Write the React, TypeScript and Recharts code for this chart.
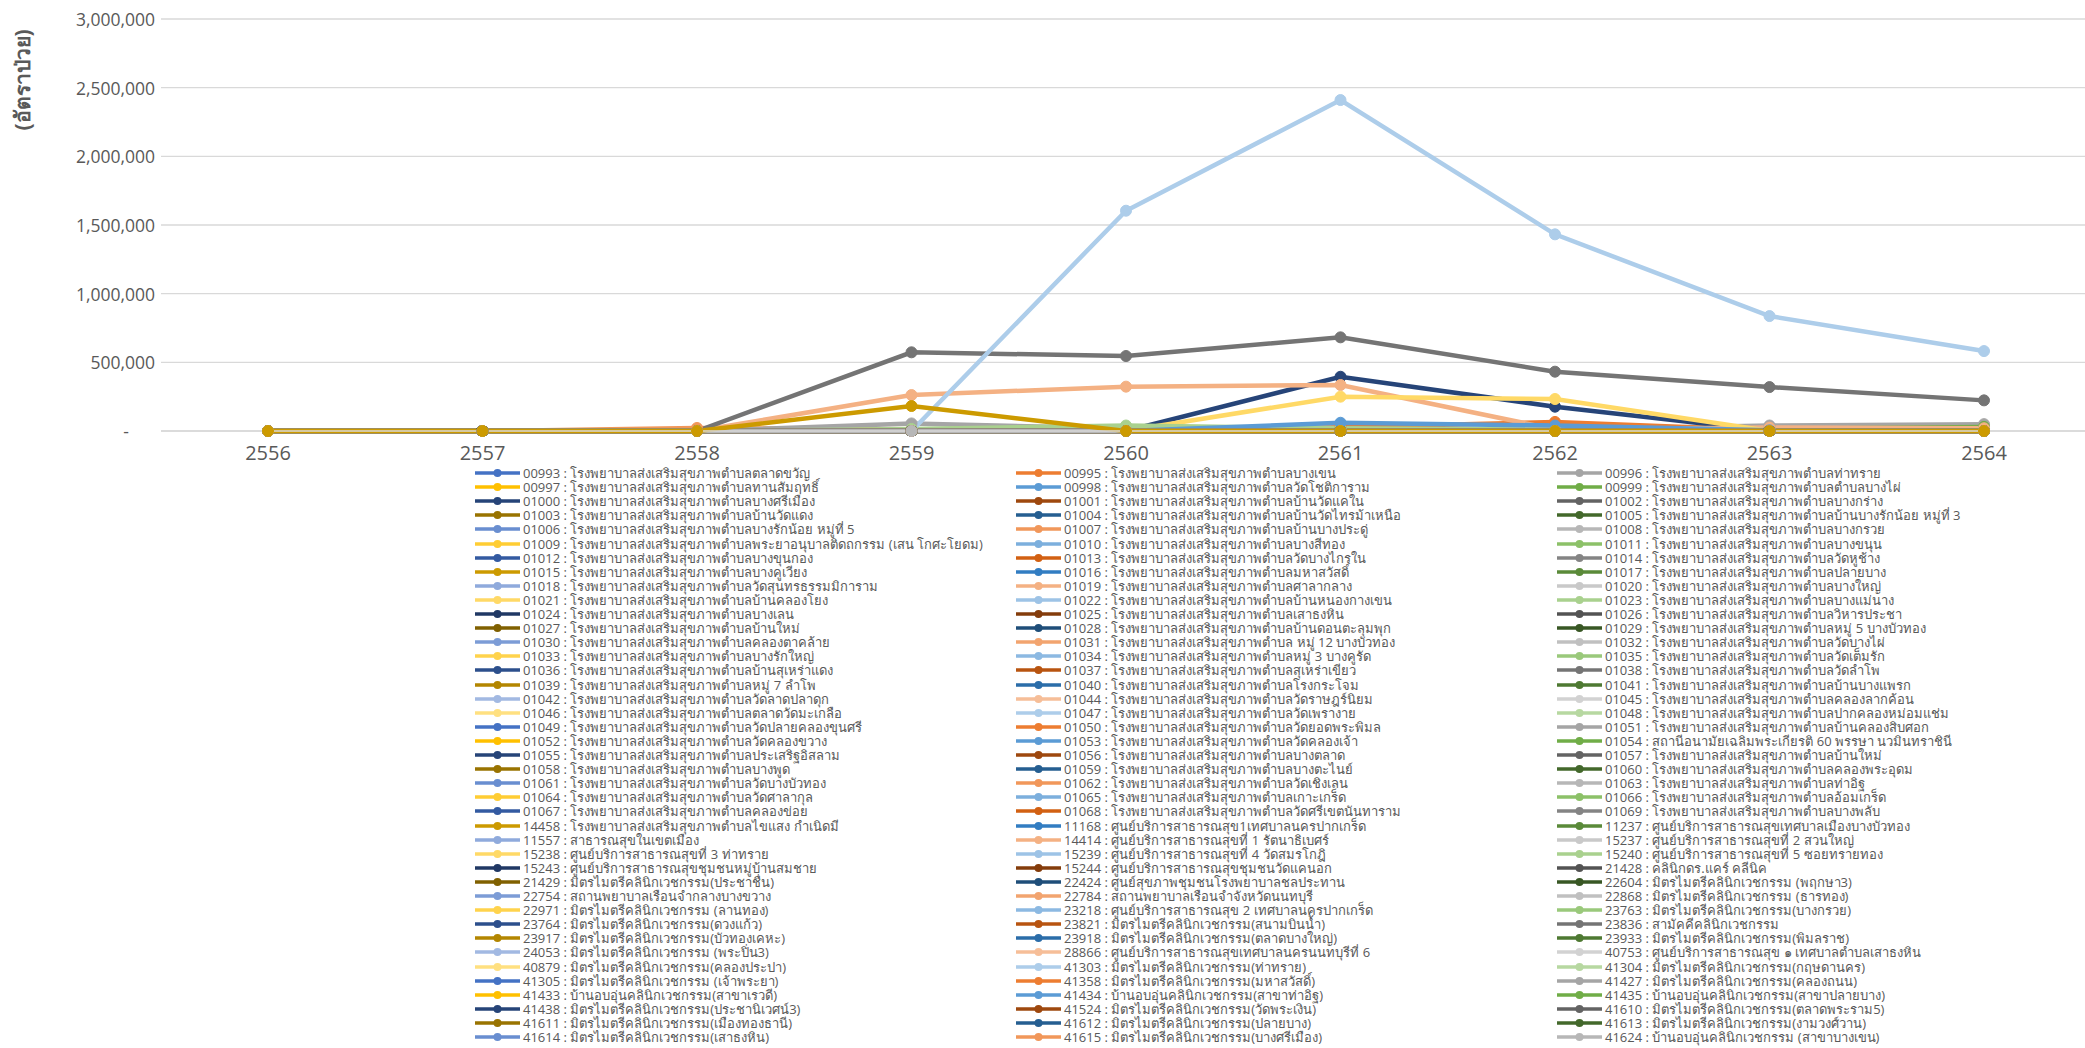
import React from "react";
import { LineChart, Line, XAxis, YAxis, CartesianGrid } from "recharts";

const years = ["2556", "2557", "2558", "2559", "2560", "2561", "2562", "2563", "2564"];
const yTicks = [0, 500000, 1000000, 1500000, 2000000, 2500000, 3000000];

// legend order (Excel fills rows left to right)
const codes = [
  "00993", "00995", "00996", "00997", "00998", "00999", "01000", "01001", "01002",
  "01003", "01004", "01005", "01006", "01007", "01008", "01009", "01010", "01011",
  "01012", "01013", "01014", "01015", "01016", "01017", "01018", "01019", "01020",
  "01021", "01022", "01023", "01024", "01025", "01026", "01027", "01028", "01029",
  "01030", "01031", "01032", "01033", "01034", "01035", "01036", "01037", "01038",
  "01039", "01040", "01041", "01042", "01044", "01045", "01046", "01047", "01048",
  "01049", "01050", "01051", "01052", "01053", "01054", "01055", "01056", "01057",
  "01058", "01059", "01060", "01061", "01062", "01063", "01064", "01065", "01066",
  "01067", "01068", "01069", "14458", "11168", "11237", "11557", "14414", "15237",
  "15238", "15239", "15240", "15243", "15244", "21428", "21429", "22424", "22604",
  "22754", "22784", "22868", "22971", "23218", "23763", "23764", "23821", "23836",
  "23917", "23918", "23933", "24053", "28866", "40753", "40879", "41303", "41304",
  "41305", "41358", "41427", "41433", "41434", "41435", "41438", "41524", "41610",
  "41611", "41612", "41613", "41614", "41615", "41624",
];

const P = "โรงพยาบาลส่งเสริมสุขภาพตำบล";
const names = [
  P + "ตลาดขวัญ", P + "บางเขน", P + "ท่าทราย",
  P + "ทานสัมฤทธิ์", P + "วัดโชติการาม", P + "ตำบลบางไผ่",
  P + "บางศรีเมือง", P + "บ้านวัดแคใน", P + "บางกร่าง",
  P + "บ้านวัดแดง", P + "บ้านวัดไทรม้าเหนือ", P + "บ้านบางรักน้อย หมู่ที่ 3",
  P + "บางรักน้อย หมู่ที่ 5", P + "บ้านบางประดู่", P + "บางกรวย",
  P + "พระยาอนุบาลติดถกรรม (เสน โกศะโยดม)", P + "บางสีทอง", P + "บางขนุน",
  P + "บางขุนกอง", P + "วัดบางไกรใน", P + "วัดหูช้าง",
  P + "บางคูเวียง", P + "มหาสวัสดิ์", P + "ปลายบาง",
  P + "วัดสุนทรธรรมมิการาม", P + "ศาลากลาง", P + "บางใหญ่",
  P + "บ้านคลองโยง", P + "บ้านหนองกางเขน", P + "บางแม่นาง",
  P + "บางเลน", P + "เสาธงหิน", P + "วิหารประชา",
  P + "บ้านใหม่", P + "บ้านดอนตะลุมพุก", P + "หมู่ 5 บางบัวทอง",
  P + "คลองตาคล้าย", P + " หมู่ 12 บางบัวทอง", P + "วัดบางไผ่",
  P + "บางรักใหญ่", P + "หมู่ 3 บางคูรัด", P + "วัดเต็มรัก",
  P + "บ้านสุเหร่าแดง", P + "สุเหร่าเขียว", P + "วัดลำโพ",
  P + "หมู่ 7 ลำโพ", P + "โรงกระโจม", P + "บ้านบางแพรก",
  P + "วัดลาดปลาดุก", P + "วัดราษฎร์นิยม", P + "คลองลากค้อน",
  P + "ตลาดวัดมะเกลือ", P + "วัดเพรางาย", P + "ปากคลองหม่อมแช่ม",
  P + "วัดปลายคลองขุนศรี", P + "วัดยอดพระพิมล", P + "บ้านคลองสิบศอก",
  P + "วัดคลองขวาง", P + "วัดคลองเจ้า", "สถานีอนามัยเฉลิมพระเกียรติ 60 พรรษา นวมินทราชินี",
  P + "ประเสริฐอิสลาม", P + "บางตลาด", P + "บ้านใหม่",
  P + "บางพูด", P + "บางตะไนย์", P + "คลองพระอุดม",
  P + "วัดบางบัวทอง", P + "วัดเชิงเลน", P + "ท่าอิฐ",
  P + "วัดศาลากุล", P + "เกาะเกร็ด", P + "อ้อมเกร็ด",
  P + "คลองข่อย", P + "วัดศรีเขตนันทาราม", P + "บางพลับ",
  P + "ไขแสง กำเนิดมี", "ศูนย์บริการสาธารณสุข1เทศบาลนครปากเกร็ด", "ศูนย์บริการสาธารณสุขเทศบาลเมืองบางบัวทอง",
  "สาธารณสุขในเขตเมือง", "ศูนย์บริการสาธารณสุขที่ 1 รัตนาธิเบศร์", "ศูนย์บริการสาธารณสุขที่ 2 สวนใหญ่",
  "ศูนย์บริการสาธารณสุขที่ 3 ท่าทราย", "ศูนย์บริการสาธารณสุขที่ 4 วัดสมรโกฎิ", "ศูนย์บริการสาธารณสุขที่ 5 ซอยทรายทอง",
  "ศูนย์บริการสาธารณสุขชุมชนหมู่บ้านสมชาย", "ศูนย์บริการสาธารณสุขชุมชนวัดแคนอก", "คลินิกดร.แคร์ คลีนิค",
  "มิตรไมตรีคลินิกเวชกรรม(ประชาชื่น)", "ศูนย์สุขภาพชุมชนโรงพยาบาลชลประทาน", "มิตรไมตรีคลินิกเวชกรรม (พฤกษา3)",
  "สถานพยาบาลเรือนจำกลางบางขวาง", "สถานพยาบาลเรือนจำจังหวัดนนทบุรี", "มิตรไมตรีคลินิกเวชกรรม (ธารทอง)",
  "มิตรไมตรีคลินิกเวชกรรม (ลานทอง)", "ศูนย์บริการสาธารณสุข 2 เทศบาลนครปากเกร็ด", "มิตรไมตรีคลินิกเวชกรรม(บางกรวย)",
  "มิตรไมตรีคลินิกเวชกรรม(ดวงแก้ว)", "มิตรไมตรีคลินิกเวชกรรม(สนามบินน้ำ)", "สามัคคีคลินิกเวชกรรม",
  "มิตรไมตรีคลินิกเวชกรรม(บัวทองเคหะ)", "มิตรไมตรีคลินิกเวชกรรม(ตลาดบางใหญ่)", "มิตรไมตรีคลินิกเวชกรรม(พิมลราช)",
  "มิตรไมตรีคลินิกเวชกรรม (พระปิ่น3)", "ศูนย์บริการสาธารณสุขเทศบาลนครนนทบุรีที่ 6", "ศูนย์บริการสาธารณสุข ๑ เทศบาลตำบลเสาธงหิน",
  "มิตรไมตรีคลินิกเวชกรรม(คลองประปา)", "มิตรไมตรีคลินิกเวชกรรม(ท่าทราย)", "มิตรไมตรีคลินิกเวชกรรม(กฤษดานคร)",
  "มิตรไมตรีคลินิกเวชกรรม (เจ้าพระยา)", "มิตรไมตรีคลินิกเวชกรรม(มหาสวัสดิ์)", "มิตรไมตรีคลินิกเวชกรรม(คลองถนน)",
  "บ้านอบอุ่นคลินิกเวชกรรม(สาขาเรวดี)", "บ้านอบอุ่นคลินิกเวชกรรม(สาขาท่าอิฐ)", "บ้านอบอุ่นคลินิกเวชกรรม(สาขาปลายบาง)",
  "มิตรไมตรีคลินิกเวชกรรม(ประชานิเวศน์3)", "มิตรไมตรีคลินิกเวชกรรม(วัดพระเงิน)", "มิตรไมตรีคลินิกเวชกรรม(ตลาดพระราม5)",
  "มิตรไมตรีคลินิกเวชกรรม(เมืองทองธานี)", "มิตรไมตรีคลินิกเวชกรรม(ปลายบาง)", "มิตรไมตรีคลินิกเวชกรรม(งามวงศ์วาน)",
  "มิตรไมตรีคลินิกเวชกรรม(เสาธงหิน)", "มิตรไมตรีคลินิกเวชกรรม(บางศรีเมือง)", "บ้านอบอุ่นคลินิกเวชกรรม (สาขาบางเขน)",
];

// values per year, 2556..2564
const s41303 = [0, 0, 0, 0, 1604000, 2410000, 1432000, 837000, 582000];
const s23836 = [0, 0, 0, 573000, 546000, 682000, 432000, 320000, 223000];
const s14414 = [0, 0, 0, 262000, 323000, 335000, 12000, 25000, 20000];
const s01055 = [0, 0, 0, 0, 0, 395000, 177000, 0, 0];
const s15238 = [0, 0, 0, 0, 0, 250000, 233000, 0, 0];
const s14458 = [0, 0, 0, 182000, 0, 0, 0, 0, 0];
const s01050 = [0, 0, 0, 0, 0, 28000, 66000, 6000, 0];
const s41434 = [0, 0, 0, 0, 0, 60000, 40000, 5000, 0];
const s01051 = [0, 0, 0, 55000, 18000, 10000, 8000, 0, 0];
const s15240 = [0, 0, 0, 15000, 40000, 20000, 10000, 0, 0];
const s00996 = [0, 0, 0, 0, 0, 0, 10000, 40000, 50000];
const s00999 = [0, 0, 0, 0, 0, 0, 0, 15000, 30000];
const s01007 = [0, 0, 22000, 12000, 6000, 0, 0, 0, 0];
const flat = [0, 0, 0, 0, 0, 0, 0, 0, 0];

const valuesByCode: Record<string, number[]> = {
  "41303": s41303, "23836": s23836, "14414": s14414, "01055": s01055,
  "15238": s15238, "14458": s14458, "01050": s01050, "41434": s41434,
  "01051": s01051, "15240": s15240, "00996": s00996, "00999": s00999,
  "01007": s01007,
};

// Office palette with Excel's shade variations
const accents = ["#4472C4", "#ED7D31", "#A5A5A5", "#FFC000", "#5B9BD5", "#70AD47"];
const variations = [[1, 0], [0.6, 0], [0.8, 0.2], [0.8, 0], [0.6, 0.4], [0.5, 0], [0.7, 0.3], [0.7, 0], [0.5, 0.5]];

function shade(hex: string, lumMod: number, lumOff: number) {
  const r = parseInt(hex.slice(1, 3), 16) / 255;
  const g = parseInt(hex.slice(3, 5), 16) / 255;
  const b = parseInt(hex.slice(5, 7), 16) / 255;
  const max = Math.max(r, g, b), min = Math.min(r, g, b);
  let h = 0, s = 0;
  const l = (max + min) / 2;
  if (max !== min) {
    const d = max - min;
    s = d / (1 - Math.abs(2 * l - 1));
    if (max === r) h = ((g - b) / d + 6) % 6;
    else if (max === g) h = (b - r) / d + 2;
    else h = (r - g) / d + 4;
    h *= 60;
  }
  const L = Math.min(1, l * lumMod + lumOff);
  const c = (1 - Math.abs(2 * L - 1)) * s;
  const x = c * (1 - Math.abs(((h / 60) % 2) - 1));
  const m = L - c / 2;
  let rr = 0, gg = 0, bb = 0;
  if (h < 60) [rr, gg, bb] = [c, x, 0];
  else if (h < 120) [rr, gg, bb] = [x, c, 0];
  else if (h < 180) [rr, gg, bb] = [0, c, x];
  else if (h < 240) [rr, gg, bb] = [0, x, c];
  else if (h < 300) [rr, gg, bb] = [x, 0, c];
  else [rr, gg, bb] = [c, 0, x];
  const toHex = (v: number) => Math.round((v + m) * 255).toString(16).padStart(2, "0");
  return "#" + toHex(rr) + toHex(gg) + toHex(bb);
}

function colorFor(i: number) {
  const k = i % 54;
  const [mod, off] = variations[Math.floor(k / 6)];
  return shade(accents[k % 6], mod, off);
}

const data = years.map((year, i) => {
  const row: Record<string, string | number> = { year };
  codes.forEach((c) => {
    row[c] = (valuesByCode[c] ?? flat)[i];
  });
  return row;
});

// draw order: the gold series sits on top at the baseline
const drawOrder = [...codes.filter((c) => c !== "14458"), "14458"];

const TEXT = "#595959";
const FONT = "'Segoe UI', 'Open Sans', 'Noto Sans', sans-serif";

function YTick({ x, y, payload }: any) {
  if (payload.value === 0) {
    return (
      <text x={x - 26} y={y} textAnchor="end" dominantBaseline="central" fill={TEXT} fontSize={17.5}>
        -
      </text>
    );
  }
  return (
    <text x={x} y={y} textAnchor="end" dominantBaseline="central" fill={TEXT} fontSize={17.5}>
      {payload.value.toLocaleString("en-US")}
    </text>
  );
}

function YTitle() {
  return (
    <text
      x={22}
      y={80}
      transform="rotate(-90, 22, 80)"
      textAnchor="middle"
      dominantBaseline="central"
      fill={TEXT}
      fontSize={21}
      fontWeight="bold"
    >
      (อัตราป่วย)
    </text>
  );
}

function LegendBox() {
  return (
    <>
      {codes.map((c, i) => {
        const col = i % 3;
        const row = Math.floor(i / 3);
        const color = colorFor(i);
        return (
          <div
            key={c}
            style={{
              position: "absolute",
              left: 474 + col * 541,
              top: 473 + row * 14.1 - 7,
              height: 14,
              display: "flex",
              alignItems: "center",
              whiteSpace: "nowrap",
              fontSize: 13,
              lineHeight: "14px",
              color: TEXT,
            }}
          >
            <svg width={47} height={14} style={{ flex: "none" }}>
              <line x1={1} y1={7} x2={46} y2={7} stroke={color} strokeWidth={3.5} />
              <circle cx={23.5} cy={7} r={4} fill={color} />
            </svg>
            <span style={{ marginLeft: 2, lineHeight: "14px", height: 14, display: "inline-block" }}>
              {c + " : " + names[i]}
            </span>
          </div>
        );
      })}
    </>
  );
}

export default function App() {
  return (
    <div
      style={{
        position: "absolute",
        left: 0,
        top: 0,
        width: 2085,
        height: 1048,
        overflow: "hidden",
        background: "#fff",
        fontFamily: FONT,
      }}
    >
      <LineChart width={2100} height={470} data={data} margin={{ top: 19, right: 9, left: 0, bottom: 9 }}>
        <CartesianGrid vertical={false} stroke="#D9D9D9" strokeWidth={1.3} />
        <XAxis
          dataKey="year"
          padding={{ left: 107, right: 107 }}
          axisLine={{ stroke: "#D9D9D9", strokeWidth: 1.3 }}
          tickLine={false}
          tickMargin={9}
          tick={{ fill: TEXT, fontSize: 20 }}
        />
        <YAxis
          width={161}
          domain={[0, 3000000]}
          ticks={yTicks}
          axisLine={false}
          tickLine={false}
          tickMargin={0}
          tick={<YTick />}
          label={{ content: () => <YTitle /> }}
        />
        {drawOrder.map((c) => {
          const color = colorFor(codes.indexOf(c));
          return (
            <Line
              key={c}
              type="linear"
              dataKey={c}
              name={c}
              stroke={color}
              strokeWidth={4.5}
              dot={{ r: 5.5, fill: color, stroke: color, strokeWidth: 1 }}
              activeDot={false}
              isAnimationActive={false}
            />
          );
        })}
      </LineChart>
      <LegendBox />
    </div>
  );
}
